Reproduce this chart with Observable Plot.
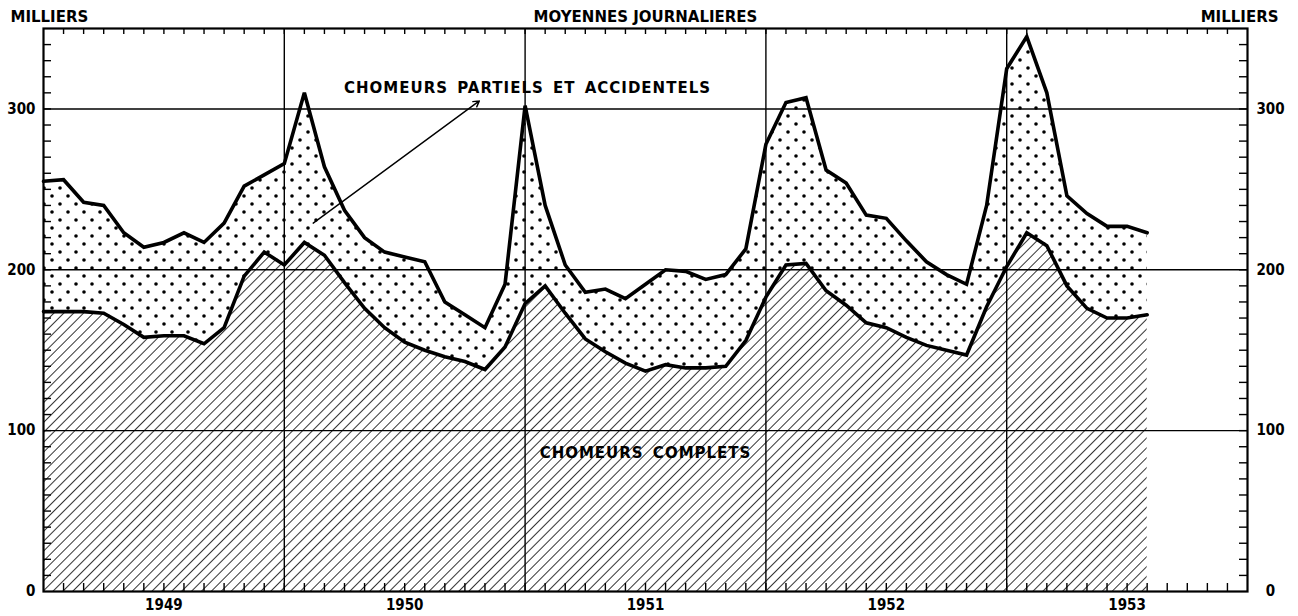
<!DOCTYPE html>
<html>
<head>
<meta charset="utf-8">
<script src="https://cdn.jsdelivr.net/npm/d3@7"></script>
<script src="https://cdn.jsdelivr.net/npm/@observablehq/plot@0.6"></script>
<style>
  html, body { margin: 0; padding: 0; background: #fff; }
  #chart svg { display: block; }
</style>
</head>
<body>
<div id="chart"></div>
<script>
// ---- Data (thousands, monthly daily averages, Jan 1949 – Aug 1953) ----
const startYear = 1949;
const completsValues = [
  174, 174, 174, 173, 166, 158, 159, 159, 154, 164, 196, 211,
  203, 217, 209, 192, 176, 164, 155, 150, 146, 143, 138, 152,
  179, 190, 173, 157, 149, 142, 137, 141, 139, 139, 140, 156,
  183, 203, 204, 187, 178, 167, 164, 158, 153, 150, 147, 177,
  202, 223, 215, 190, 176, 170, 170, 172
];
const totalValues = [
  255, 256, 242, 240, 223, 214, 217, 223, 217, 229, 252, 259,
  266, 310, 264, 237, 220, 211, 208, 205, 180, 172, 164, 191,
  302, 240, 203, 186, 188, 182, 191, 200, 199, 194, 197, 213,
  278, 304, 307, 262, 254, 234, 232, 218, 205, 197, 191, 240,
  325, 345, 310, 246, 235, 227, 227, 223
];
const yearLabels = [1949, 1950, 1951, 1952, 1953];
const yearBoundaries = [1950, 1951, 1952, 1953];
const yGrid = [100, 200, 300];
const yLabels = [0, 100, 200, 300];
const yMinorTicks = d3.range(10, 350, 10);
const monthTicks = d3.range(1, 60).map(i => startYear + i / 12);
const headerLeft = "MILLIERS";
const headerCenter = "MOYENNES JOURNALIERES";
const headerRight = "MILLIERS";
const annotations = [
  {label: "CHOMEURS PARTIELS ET ACCIDENTELS", x: 1951.01, y: 313},
  {label: "CHOMEURS COMPLETS", x: 1951.5, y: 86}
];
const leader = [{x1: 1950.12, y1: 229, x2: 1950.81, y2: 305}];

const data = completsValues.map((c, i) => ({
  x: startYear + i / 12,
  complets: c,
  total: totalValues[i]
}));

const headFont = "'DejaVu Sans', sans-serif";
const numFont = "'DejaVu Sans Condensed', 'DejaVu Sans', sans-serif";

const chart = Plot.plot({
  width: 1298,
  height: 616,
  marginTop: 28,
  marginBottom: 25,
  marginLeft: 43,
  marginRight: 51,
  x: {type: "linear", domain: [1949, 1954], axis: null},
  y: {domain: [0, 350], axis: null},
  style: {background: "#fff", color: "#000"},
  marks: [
    Plot.areaY(data, {x: "x", y1: 0, y2: "complets", fill: "url(#hatch)", curve: "linear"}),
    Plot.areaY(data, {x: "x", y1: "complets", y2: "total", fill: "url(#dots)", curve: "linear"}),
    Plot.ruleY(yGrid, {stroke: "#000", strokeWidth: 1.4}),
    Plot.ruleX(yearBoundaries, {stroke: "#000", strokeWidth: 1.4}),
    Plot.frame({stroke: "#000", strokeWidth: 2.2}),
    // inward minor ticks
    Plot.tickX(monthTicks, {x: d => d, insetTop: 555, stroke: "#000", strokeWidth: 1.4}),
    Plot.tickX(monthTicks, {x: d => d, insetBottom: 557, stroke: "#000", strokeWidth: 1.4}),
    Plot.tickY(yMinorTicks, {y: d => d, insetRight: 1196, stroke: "#000", strokeWidth: 1.4}),
    Plot.tickY(yMinorTicks, {y: d => d, insetLeft: 1196, stroke: "#000", strokeWidth: 1.4}),
    // data lines
    Plot.lineY(data, {x: "x", y: "complets", stroke: "#000", strokeWidth: 3.6, strokeLinejoin: "miter", strokeMiterlimit: 3}),
    Plot.lineY(data, {x: "x", y: "total", stroke: "#000", strokeWidth: 3.6, strokeLinejoin: "miter", strokeMiterlimit: 3}),
    // annotations
    Plot.arrow(leader, {x1: "x1", y1: "y1", x2: "x2", y2: "y2", stroke: "#000", strokeWidth: 1.4, headLength: 7}),
    Plot.text(annotations, {x: "x", y: "y", text: "label", fontFamily: headFont, fontWeight: "bold", fontSize: 15, fill: "#000"}),
    // headers
    Plot.text([headerLeft], {frameAnchor: "top-left", textAnchor: "start", dx: -33, dy: -17, fontFamily: headFont, fontWeight: "bold", fontSize: 15, fill: "#000"}),
    Plot.text([headerCenter], {frameAnchor: "top", dy: -17, fontFamily: headFont, fontWeight: "bold", fontSize: 15, fill: "#000"}),
    Plot.text([headerRight], {frameAnchor: "top-right", textAnchor: "end", dx: 31, dy: -17, fontFamily: headFont, fontWeight: "bold", fontSize: 15, fill: "#000"}),
    // y labels
    Plot.text(yLabels, {y: d => d, text: d => String(d), frameAnchor: "left", textAnchor: "end", dx: -8, fontFamily: numFont, fontWeight: "bold", fontSize: 15, fill: "#000"}),
    Plot.text(yLabels, {y: d => d, text: d => String(d), frameAnchor: "right", textAnchor: "middle", dx: 23, fontFamily: numFont, fontWeight: "bold", fontSize: 15, fill: "#000"}),
    // year labels
    Plot.text(yearLabels, {x: d => d + 0.5, text: d => String(d), frameAnchor: "bottom", dy: 18, fontFamily: numFont, fontWeight: "bold", fontSize: 15, fill: "#000"})
  ]
});

// patterns
const svg = d3.select(chart);
const defs = svg.insert("defs", ":first-child");
const hatch = defs.append("pattern")
  .attr("id", "hatch")
  .attr("patternUnits", "userSpaceOnUse")
  .attr("width", 7).attr("height", 7)
  .attr("patternTransform", "rotate(45)");
hatch.append("rect").attr("width", 7).attr("height", 7).attr("fill", "#fff");
hatch.append("line").attr("x1", 0).attr("y1", 0).attr("x2", 0).attr("y2", 7)
  .attr("stroke", "#000").attr("stroke-width", 1.6);
const dots = defs.append("pattern")
  .attr("id", "dots")
  .attr("patternUnits", "userSpaceOnUse")
  .attr("width", 16).attr("height", 16);
dots.append("rect").attr("width", 16).attr("height", 16).attr("fill", "#fff");
dots.append("circle").attr("cx", 4).attr("cy", 4).attr("r", 1.8).attr("fill", "#000");
dots.append("circle").attr("cx", 12).attr("cy", 12).attr("r", 1.8).attr("fill", "#000");

// letter spacing on the in-chart annotations
svg.selectAll("text")
  .filter(function() { return this.textContent.startsWith("CHOMEURS"); })
  .style("letter-spacing", "1px")
  .style("word-spacing", "3px");

document.getElementById("chart").appendChild(chart);
</script>
</body>
</html>
